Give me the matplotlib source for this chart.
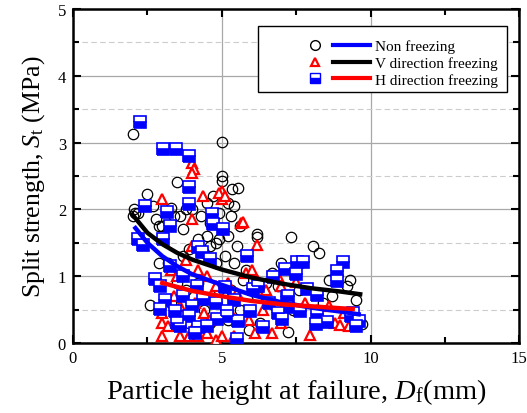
import numpy as np
import matplotlib.pyplot as plt
from matplotlib.lines import Line2D
from matplotlib.patches import Rectangle
from matplotlib.legend_handler import HandlerTuple

plt.rcParams['font.family'] = 'Liberation Serif'
plt.rcParams['mathtext.fontset'] = 'custom'
plt.rcParams['mathtext.rm'] = 'Liberation Serif'
plt.rcParams['mathtext.it'] = 'Liberation Serif:italic'

# scatter data
non_x = [2.0, 2.05, 2.1, 2.0, 2.5, 2.8, 2.9, 2.7, 3.0, 3.3, 2.6, 2.2, 3.2, 2.9,
         3.5, 3.4, 3.6, 3.8, 3.7, 3.9, 4.0, 3.7, 3.5, 3.8, 3.3, 3.6, 3.9,
         4.3, 4.5, 4.6, 4.7, 4.8, 4.5, 4.9, 4.9, 4.2, 4.4, 4.6, 4.8, 4.2, 4.4, 4.6, 4.9, 5.0, 5.0, 5.0,
         5.35, 5.55, 5.2, 5.4, 5.3, 5.6, 5.2, 5.5, 5.1, 5.4, 5.8, 5.7, 5.3, 5.6, 5.9, 5.2,
         6.2, 6.2, 6.7, 6.5, 6.2, 6.8, 6.3, 6.9,
         7.0, 7.33, 7.6, 7.4, 7.24, 8.08, 8.28, 8.6, 8.7, 8.4, 9.2, 9.5, 9.7, 9.3]
non_y = [3.13, 2.0, 1.95, 1.9, 2.23, 1.85, 1.75, 2.05, 1.75, 2.02, 0.57, 1.95, 1.2, 1.2,
         2.41, 1.9, 1.9, 2.0, 1.7, 1.4, 2.0, 1.3, 0.9, 0.8, 0.6, 0.45, 0.3,
         1.9, 2.1, 1.8, 2.2, 1.5, 1.6, 1.95, 1.55, 1.55, 1.35, 1.45, 1.2, 0.9, 0.5, 0.3, 0.8, 2.5, 2.42, 3.01,
         2.31, 2.32, 2.1, 2.05, 1.9, 1.75, 1.6, 1.45, 1.3, 1.2, 1.1, 0.95, 0.8, 0.5, 0.2, 0.35,
         1.63, 1.58, 1.05, 0.9, 0.7, 0.55, 0.3, 0.85,
         1.2, 1.59, 0.8, 0.5, 0.17, 1.45, 1.35, 0.95, 0.7, 0.6, 0.85, 0.65, 0.28, 0.95]

v_x = [3.0, 4.0, 4.05, 4.0, 4.38, 5.0, 5.0, 4.9, 5.1, 5.66, 6.2, 4.0, 4.0, 5.7,
       3.3, 3.5, 3.8, 4.2, 4.5, 4.8, 5.2, 5.5, 5.8, 6.0, 6.2, 6.5, 6.9, 7.0, 7.3, 7.8, 8.2, 8.6, 9.1,
       3.4, 3.6, 4.1, 4.4, 4.6, 5.3, 5.9, 6.4, 7.0, 7.5, 8.8,
       3.0, 3.0, 3.0, 3.2, 3.6, 3.9, 4.0, 4.2, 4.5, 4.8, 5.0, 5.4, 6.1, 6.7, 7.98, 8.96, 9.26]
v_y = [2.16, 2.7, 2.6, 2.55, 2.2, 2.28, 2.16, 2.25, 2.2, 1.8, 1.46, 1.86, 1.45, 1.81,
       1.1, 1.0, 1.25, 1.1, 1.0, 0.85, 0.9, 0.75, 1.05, 1.1, 0.95, 0.8, 1.0, 0.85, 0.65, 0.6, 0.5, 0.55, 0.45,
       0.7, 0.55, 0.6, 0.45, 0.35, 0.45, 0.35, 0.5, 0.3, 0.91, 0.3,
       0.1, 0.3, 0.45, 0.25, 0.1, 0.1, 0.2, 0.1, 0.15, 0.05, 0.1, 0.1, 0.15, 0.15, 0.12, 0.27, 0.25]

h_x = [2.26, 3.03, 3.47, 3.9, 3.9, 3.9, 2.42, 3.16, 3.27, 3.03, 2.36, 2.2,
       4.68, 4.71, 5.05, 4.2, 4.35, 4.6, 2.76, 2.93, 2.93, 3.43, 3.6, 4.2, 4.5, 4.85, 5.18, 5.1,
       5.52, 6.06, 5.86, 4.38, 3.7, 3.27, 3.7, 4.17, 3.1, 3.9, 4.0, 4.8, 4.1, 3.5,
       7.54, 7.74, 7.14, 7.5, 9.06, 8.86, 8.86, 7.88, 8.2, 7.2, 7.2, 7.64, 8.2, 8.55, 8.15,
       9.33, 9.6, 9.5, 6.73, 6.23, 7.24, 7.04, 6.4, 5.96, 5.56, 5.18, 6.6, 5.4, 6.9, 9.4]
h_y = [3.31, 2.9, 2.9, 2.8, 2.34, 2.08, 2.05, 1.96, 1.75, 1.56, 1.46, 1.55,
       1.93, 1.78, 1.7, 1.44, 1.36, 1.26, 0.96, 0.86, 0.51, 0.48, 0.25, 0.24, 0.25, 0.36, 0.48, 0.84,
       0.06, 0.81, 1.3, 0.66, 0.7, 1.15, 1.0, 0.85, 0.65, 0.4, 0.55, 0.6, 0.15, 0.3,
       1.21, 1.21, 1.11, 1.03, 1.21, 1.08, 0.93, 0.81, 0.72, 0.69, 0.54, 0.48, 0.43, 0.31, 0.28,
       0.4, 0.33, 0.25, 0.99, 0.85, 0.7, 0.36, 0.24, 0.48, 0.33, 0.4, 0.6, 0.65, 0.45, 0.45]

# fitted curves, points
non_fit_x = [2.1, 2.5, 3.0, 3.5, 4.0, 5.0, 6.0, 7.0, 8.0, 9.0, 9.6]
non_fit_y = [1.72, 1.5, 1.3, 1.15, 1.03, 0.87, 0.72, 0.61, 0.53, 0.47, 0.43]
v_fit_x = [2.0, 2.5, 3.0, 3.5, 4.0, 5.0, 6.0, 7.0, 8.0, 9.0, 9.65]
v_fit_y = [1.92, 1.65, 1.48, 1.35, 1.25, 1.10, 0.98, 0.89, 0.82, 0.77, 0.73]
h_fit_x = [3.0, 4.0, 5.0, 6.0, 7.0, 8.0, 9.0, 9.4]
h_fit_y = [0.90, 0.78, 0.70, 0.63, 0.58, 0.55, 0.52, 0.51]

fig = plt.figure(figsize=(5.27, 4.14), dpi=100)
ax = fig.add_axes([0.1385, 0.169, 0.847, 0.807])

ax.grid(True, which='major', color='#a8a8a8', lw=0.9, zorder=0)
ax.yaxis.grid(True, which='minor', color='#cccccc', lw=0.8, ls=(0, (5, 3)))
ax.set_axisbelow(True)

ms = 7.5
ax.plot(non_x, non_y, 'o', ms=ms, mfc='none', mec='black', mew=0.9, zorder=3)
ax.plot(v_x, v_y, '^', ms=ms - 0.5, mfc='white', mec='red', mew=1.6, zorder=3)
ax.plot(h_x, h_y, 's', ms=ms + 0.5, fillstyle='bottom', mfc='blue', mfcalt='white',
        mec='blue', mew=1.2, zorder=4)

ax.plot(non_fit_x, non_fit_y, color='blue', lw=3.2, zorder=5)
ax.plot(v_fit_x, v_fit_y, color='black', lw=3.2, zorder=5)
ax.plot(h_fit_x, h_fit_y, color='red', lw=3.2, zorder=5)

ax.set_xlim(0, 15)
ax.set_ylim(0, 5)
ax.set_xticks([0, 5, 10, 15])
ax.set_xticks([2.5, 7.5, 12.5], minor=True)
ax.set_yticks([0, 1, 2, 3, 4, 5])
ax.set_yticks(np.arange(0.5, 5, 1), minor=True)
ax.tick_params(which='both', direction='in', top=True, right=True, width=1.5,
               labelsize=12, pad=5)
ax.tick_params(which='major', length=6)
ax.tick_params(which='minor', length=4)
for s in ax.spines.values():
    s.set_linewidth(1.8)

ax.set_xlabel(r'Particle height at failure, $\mathit{D}_\mathrm{f}$(mm)', fontsize=20.5, labelpad=7)
ax.set_ylabel(r'Split strength, $\mathit{S}_\mathrm{t}$ (MPa)', fontsize=18.5, labelpad=8)

# legend box (drawn separately so it can be wider than the entries)
ax.add_patch(Rectangle((0.415, 0.751), 0.558, 0.198, transform=ax.transAxes,
                       facecolor='white', edgecolor='black', lw=1.0, zorder=6))

handles = [
    (Line2D([], [], ls='', marker='o', ms=7, mfc='none', mec='black'),
     Line2D([], [], color='blue', lw=3)),
    (Line2D([], [], ls='', marker='^', ms=6, mfc='white', mec='red', mew=1.6),
     Line2D([], [], color='black', lw=3)),
    (Line2D([], [], ls='', marker='s', ms=6.5, fillstyle='bottom', mfc='blue',
            mfcalt='white', mec='blue'),
     Line2D([], [], color='red', lw=3)),
]
labels = ['Non freezing', 'V direction freezing', 'H direction freezing']
leg = ax.legend(handles, labels, handler_map={tuple: HandlerTuple(ndivide=None, pad=0.0)},
                loc='center right', bbox_to_anchor=(0.975, 0.838), fontsize=11,
                handlelength=4.8, handletextpad=0.3, labelspacing=0.2,
                borderpad=0.2, frameon=False)
leg.set_zorder(7)

fig.savefig('out.png', dpi=100)
